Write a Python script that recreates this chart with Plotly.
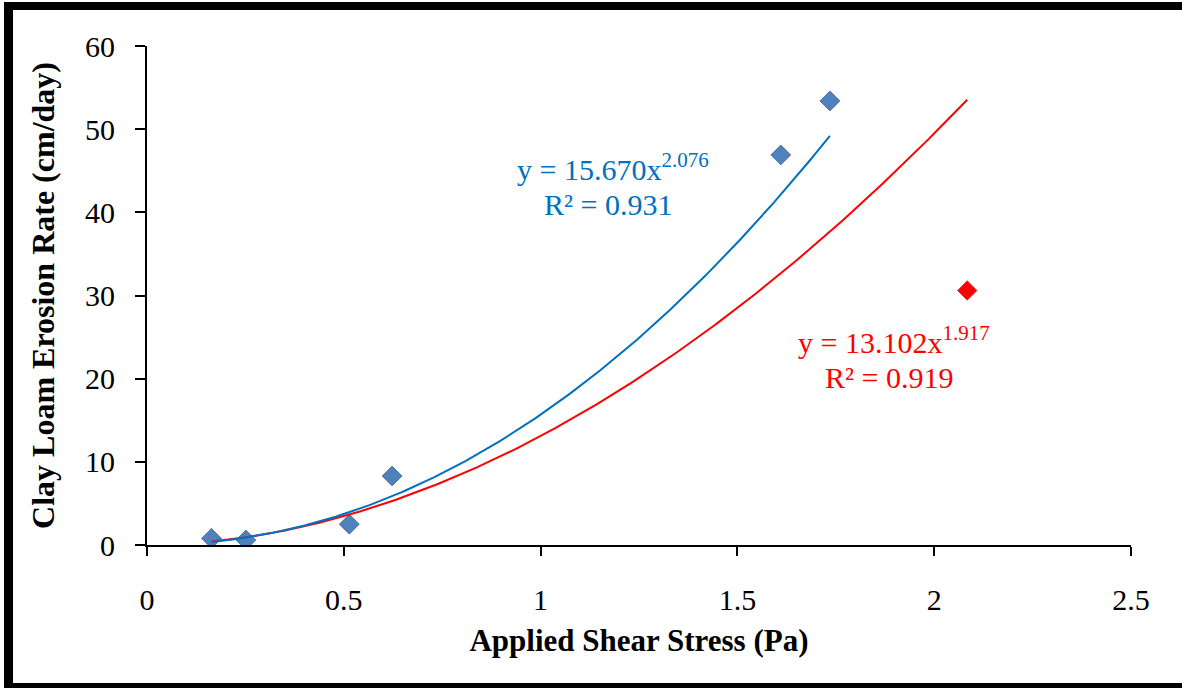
import numpy as np
import plotly.graph_objects as go

# Data
blue_x = [0.164, 0.251, 0.514, 0.623, 1.610, 1.735]
blue_y = [0.8, 0.6, 2.5, 8.3, 46.9, 53.4]
red_x = [0.164, 0.251, 0.514, 0.623, 1.610, 1.735, 2.084]
red_y = [0.8, 0.6, 2.5, 8.3, 46.9, 53.4, 30.6]

# Power trendline coefficients shown on the chart
blue_a, blue_b = 15.670, 2.076
red_a, red_b = 13.102, 1.917

x_ticks = [0, 0.5, 1, 1.5, 2, 2.5]
x_tick_text = ["0", "0.5", "1", "1.5", "2", "2.5"]
y_ticks = [0, 10, 20, 30, 40, 50, 60]

FONT = "Liberation Serif"
BLUE_LINE = "#0070C0"
RED_LINE = "#FF0000"
MARKER_BLUE = "#4F81BD"

bx = np.linspace(min(blue_x), max(blue_x), 300)
rx = np.linspace(min(red_x), max(red_x), 300)

fig = go.Figure()

# Red series markers (all points), drawn first
fig.add_trace(go.Scatter(
    x=red_x, y=red_y, mode="markers",
    marker=dict(symbol="diamond", size=15, color="#FF0000",
                line=dict(color="#C0504D", width=1)),
    showlegend=False, hoverinfo="x+y"))
# Blue series markers on top
fig.add_trace(go.Scatter(
    x=blue_x, y=blue_y, mode="markers",
    marker=dict(symbol="diamond", size=15, color=MARKER_BLUE,
                line=dict(color="#4A7EBB", width=1)),
    showlegend=False, hoverinfo="x+y"))
# Trendlines
fig.add_trace(go.Scatter(
    x=rx, y=red_a * rx ** red_b, mode="lines",
    line=dict(color=RED_LINE, width=2), showlegend=False, hoverinfo="skip"))
fig.add_trace(go.Scatter(
    x=bx, y=blue_a * bx ** blue_b, mode="lines",
    line=dict(color=BLUE_LINE, width=2), showlegend=False, hoverinfo="skip"))

ann_font = 30
annotations = [
    dict(x=1.184, y=45.5, text="y = 15.670x<sup>2.076</sup>",
         font=dict(color=BLUE_LINE, size=ann_font, family=FONT)),
    dict(x=1.172, y=40.9, text="R² = 0.931",
         font=dict(color=BLUE_LINE, size=ann_font, family=FONT)),
    dict(x=1.897, y=24.7, text="y = 13.102x<sup>1.917</sup>",
         font=dict(color=RED_LINE, size=ann_font, family=FONT)),
    dict(x=1.885, y=20.2, text="R² = 0.919",
         font=dict(color=RED_LINE, size=ann_font, family=FONT)),
]
for a in annotations:
    a.update(xref="x", yref="y", showarrow=False, xanchor="center", yanchor="middle")

# Outer thick black frame (pixel positions converted to paper coords)
L, R, T, B = 147, 51, 46, 143
W, H = 1182, 688
pw, ph = W - L - R, H - T - B

def px(xp):
    return (xp - L) / pw

def py(yp):
    return (H - B - yp) / ph

frame = [
    (4, 2, 1200, 10),     # top
    (4, 2, 13, 700),      # left
    (4, 683, 1200, 700),  # bottom
]
shapes = []
for x0, y0, x1, y1 in frame:
    shapes.append(dict(type="rect", xref="paper", yref="paper",
                       x0=px(x0), x1=px(x1), y0=py(y1), y1=py(y0),
                       fillcolor="black", line=dict(width=0), layer="above"))

fig.update_layout(
    width=W, height=H,
    margin=dict(l=L, r=R, t=T, b=B),
    paper_bgcolor="white", plot_bgcolor="white",
    font=dict(family=FONT, color="black"),
    annotations=annotations,
    shapes=shapes,
    xaxis=dict(
        range=[0, 2.5], tickvals=x_ticks, ticktext=x_tick_text,
        showgrid=False, zeroline=False, showline=True, linecolor="black",
        linewidth=2, ticks="outside", ticklen=9, tickwidth=2, tickcolor="black",
        tickfont=dict(size=30, family=FONT), ticklabelstandoff=18,
        title=dict(text="<b>Applied Shear Stress (Pa)</b>",
                   font=dict(size=31, family=FONT), standoff=14),
    ),
    yaxis=dict(
        range=[0, 60], tickvals=y_ticks,
        showgrid=False, zeroline=False, showline=True, linecolor="black",
        linewidth=2, ticks="outside", ticklen=10, tickwidth=2, tickcolor="black",
        tickfont=dict(size=30, family=FONT), ticklabelstandoff=14,
        title=dict(text="<b>Clay Loam Erosion Rate (cm/day)</b>",
                   font=dict(size=32, family=FONT), standoff=21),
    ),
)

fig.write_html("out.html")
